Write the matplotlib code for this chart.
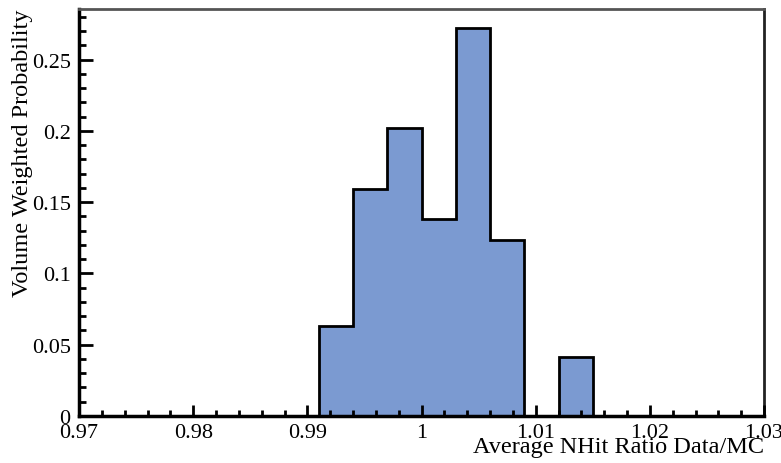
import numpy as np
import matplotlib.pyplot as plt
from matplotlib.ticker import MultipleLocator

plt.rcParams['font.family'] = ['Liberation Serif', 'DejaVu Serif']

# histogram: 20 bins from 0.97 to 1.03
bin_lo = 0.97
bin_hi = 1.03
n_bins = 20
probs = [0, 0, 0, 0, 0, 0, 0,
         0.0632, 0.159, 0.202, 0.138, 0.272, 0.1235, 0.0, 0.0415,
         0, 0, 0, 0, 0]
xlabel = 'Average NHit Ratio Data/MC'
ylabel = 'Volume Weighted Probability'

edges = np.linspace(bin_lo, bin_hi, n_bins + 1)

fig = plt.figure(figsize=(7.81, 4.64), dpi=100)
ax = fig.add_axes([79/781, 1 - 417/464, 685/781, 407/464])

ax.stairs(probs, edges, fill=True, color='#7b9ad1', zorder=1)
ax.stairs(probs, edges, color='black', linewidth=2, zorder=2)

ax.set_xlim(bin_lo, bin_hi)
ax.set_ylim(0, max(probs) * 1.05)

ax.xaxis.set_major_locator(MultipleLocator(0.01))
ax.xaxis.set_minor_locator(MultipleLocator(0.002))
ax.yaxis.set_major_locator(MultipleLocator(0.05))
ax.yaxis.set_minor_locator(MultipleLocator(0.01))
ax.xaxis.set_major_formatter(plt.FuncFormatter(lambda v, p: ('%g' % round(v, 4))))
ax.yaxis.set_major_formatter(plt.FuncFormatter(lambda v, p: ('%g' % round(v, 4))))

ax.tick_params(which='both', direction='in', top=False, right=False,
               labelsize=16, width=2)
ax.tick_params(axis='y', pad=6)
ax.tick_params(axis='x', pad=5)
ax.tick_params(which='major', length=10)
ax.tick_params(which='minor', length=5)
ax.tick_params(axis='x', which='major', length=8)
ax.tick_params(axis='x', which='minor', length=4)
ax.set_axisbelow(False)

ax.spines['left'].set_linewidth(2.5)
ax.spines['bottom'].set_linewidth(2.5)
ax.spines['top'].set_color('#555555')
ax.spines['top'].set_linewidth(2)
ax.spines['right'].set_color('#222222')
ax.spines['right'].set_linewidth(2)

ax.set_xlabel(xlabel, fontsize=17.5, loc='right', labelpad=-4)
ax.set_ylabel(ylabel, fontsize=17.5, loc='top', labelpad=-1)

fig.savefig('out.png', dpi=100)
